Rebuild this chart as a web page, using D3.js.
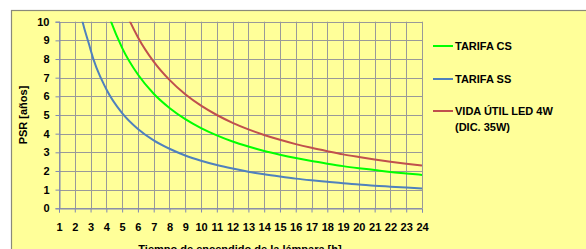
<!DOCTYPE html>
<html>
<head>
<meta charset="utf-8">
<script src="https://cdn.jsdelivr.net/npm/d3@7"></script>
<style>
  body { margin: 0; background: #fff; }
  svg text { font-family: Arial, "Liberation Sans", sans-serif; font-weight: bold; fill: #000; }
</style>
</head>
<body>
<div id="vis"></div>
<script>
// hours of lamp use per day
const hours = [1,2,3,4,5,6,7,8,9,10,11,12,13,14,15,16,17,18,19,20,21,22,23,24];
const tarifaCS = [43,21.5,14.33,10.75,8.6,7.17,6.14,5.38,4.78,4.3,3.91,3.58,3.31,3.07,2.87,2.69,2.53,2.39,2.26,2.15,2.05,1.95,1.87,1.79];
const tarifaSS = [25.5,12.75,8.5,6.38,5.1,4.25,3.64,3.19,2.83,2.55,2.32,2.13,1.96,1.82,1.7,1.59,1.5,1.42,1.34,1.28,1.21,1.16,1.11,1.06];
const vidaUtil = [55,27.5,18.33,13.75,11,9.17,7.86,6.88,6.11,5.5,5,4.58,4.23,3.93,3.67,3.44,3.24,3.06,2.89,2.75,2.62,2.5,2.39,2.29];
const yTicks = [0,1,2,3,4,5,6,7,8,9,10];

const series = [
  {name: ["TARIFA CS"], values: tarifaCS, color: "#00ff00"},
  {name: ["TARIFA SS"], values: tarifaSS, color: "#4f81bd"},
  {name: ["VIDA ÚTIL LED  4W", "(DIC. 35W)"], values: vidaUtil, color: "#c0504d"}
];

const svg = d3.select("#vis").append("svg")
  .attr("width", 586)
  .attr("height", 249);

// chart area
svg.append("rect")
  .attr("x", 11.5).attr("y", 10.5)
  .attr("width", 600).attr("height", 260)
  .attr("fill", "#ffff99")
  .attr("stroke", "#8a8a7a")
  .attr("stroke-width", 1.2);

const x = d3.scaleLinear().domain([1, 24]).range([59, 422]);
const y = d3.scaleLinear().domain([0, 10]).range([208.3, 21.7]);

// grid
svg.append("g").selectAll("line").data(hours).join("line")
  .attr("x1", d => Math.round(x(d)) + 0.5).attr("x2", d => Math.round(x(d)) + 0.5)
  .attr("y1", y(10)).attr("y2", y(0))
  .attr("stroke", "#999").attr("stroke-width", 1);
svg.append("g").selectAll("line").data(yTicks).join("line")
  .attr("x1", x(1)).attr("x2", x(24))
  .attr("y1", d => Math.round(y(d)) + 0.5).attr("y2", d => Math.round(y(d)) + 0.5)
  .attr("stroke", "#999").attr("stroke-width", 1);

// axes
const xAxis = svg.append("g")
  .attr("transform", `translate(0,${Math.round(y(0)) + 0.5})`)
  .call(d3.axisBottom(x).tickValues(hours).tickSize(4).tickPadding(11).tickFormat(d3.format("d")));
const yAxis = svg.append("g")
  .attr("transform", `translate(${Math.round(x(1)) + 0.5},0)`)
  .call(d3.axisLeft(y).tickValues(yTicks).tickSize(4).tickPadding(6));
[xAxis, yAxis].forEach(a => {
  a.select(".domain").attr("stroke", "#7f87b5");
  a.selectAll(".tick line").attr("stroke", "#7f87b5");
  a.selectAll("text").attr("font-size", 11).attr("font-family", null);
});

// curves
const clip = svg.append("clipPath").attr("id", "plot").append("rect")
  .attr("x", x(1)).attr("y", y(10)).attr("width", x(24) - x(1)).attr("height", y(0) - y(10));

const line = d3.line()
  .x((d, i) => x(hours[i]))
  .y(d => y(d))
  .curve(d3.curveMonotoneX);

svg.append("g").attr("clip-path", "url(#plot)")
  .selectAll("path").data(series).join("path")
  .attr("fill", "none")
  .attr("stroke", d => d.color)
  .attr("stroke-width", 2)
  .attr("d", d => line(d.values));

// legend
const legY = [46, 79, 111];
const leg = svg.append("g").selectAll("g").data(series).join("g")
  .attr("transform", (d, i) => `translate(433,${legY[i]})`);
leg.append("line")
  .attr("x1", 0).attr("x2", 20)
  .attr("stroke", d => d.color).attr("stroke-width", 2);
leg.append("text")
  .attr("x", 22).attr("y", 4)
  .attr("font-size", 11)
  .selectAll("tspan").data(d => d.name).join("tspan")
  .attr("x", 22).attr("dy", (d, i) => i ? 16 : 0)
  .text(d => d);

// axis titles
svg.append("text")
  .attr("x", 240).attr("y", 253)
  .attr("text-anchor", "middle")
  .attr("font-size", 11)
  .text("Tiempo de encendido de la lámpara [h]");
svg.append("text")
  .attr("transform", "translate(27,115) rotate(-90)")
  .attr("text-anchor", "middle")
  .attr("font-size", 11)
  .text("PSR [años]");
</script>
</body>
</html>
